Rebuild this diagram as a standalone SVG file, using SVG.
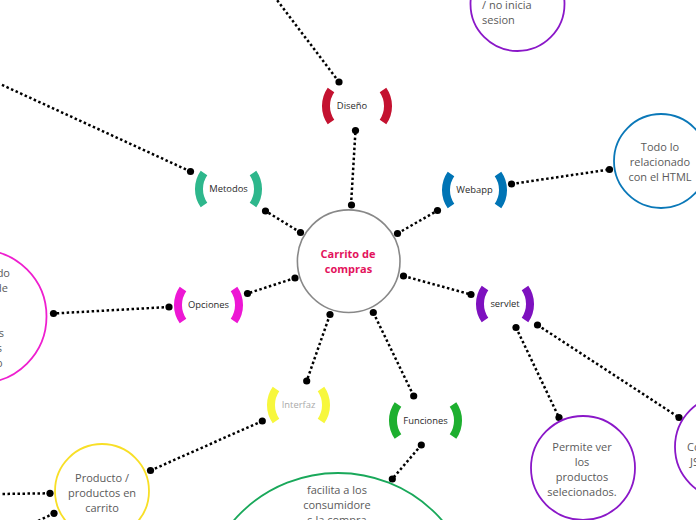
<svg xmlns="http://www.w3.org/2000/svg" width="696" height="520" viewBox="0 0 696 520">
<style>
.con{fill:none;stroke:#000;stroke-width:2.5;stroke-dasharray:2.5 2.5}
.dot{fill:#000}
.br{fill:none;stroke-width:8}
.lbl{font-family:"Open Sans","DejaVu Sans",sans-serif;font-size:9.4px;fill:#2b2b2b;text-anchor:middle}
.leaf{fill:#fff;stroke-width:1.8}
.lt{font-family:"Open Sans","DejaVu Sans",sans-serif;font-size:11px;fill:#5a5a5a;text-anchor:middle}
</style>
<rect width="696" height="520" fill="#fff"/>
<g id="connectors">
<line class="con" x1="351" y1="205" x2="355.5" y2="130.5"/>
<line class="con" x1="339" y1="82" x2="277" y2="0"/>
<line class="con" x1="300.5" y1="232.5" x2="265.5" y2="211"/>
<line class="con" x1="190.5" y1="171.5" x2="0" y2="84"/>
<line class="con" x1="397.5" y1="233.5" x2="437.5" y2="210.5"/>
<line class="con" x1="511.5" y1="184" x2="609.5" y2="169.5"/>
<line class="con" x1="295" y1="278" x2="247.5" y2="293.5"/>
<line class="con" x1="169" y1="307" x2="53.5" y2="313.5"/>
<line class="con" x1="403.5" y1="276" x2="471" y2="294.5"/>
<line class="con" x1="516" y1="327.5" x2="559" y2="417.5"/>
<line class="con" x1="537.5" y1="325" x2="679" y2="417.5"/>
<line class="con" x1="330" y1="314.5" x2="306.7" y2="381"/>
<line class="con" x1="262.3" y1="421" x2="150.5" y2="470.5"/>
<line class="con" x1="373.3" y1="312.5" x2="413.7" y2="396"/>
<line class="con" x1="421.3" y1="445" x2="392.3" y2="479"/>
<line class="con" x1="50" y1="493.3" x2="0" y2="494"/>
<line class="con" x1="54" y1="513.3" x2="38" y2="521"/>
<g class="dot">
<circle cx="351.5" cy="205" r="3.6"/><circle cx="355.5" cy="130.5" r="3.6"/>
<circle cx="339" cy="82" r="3.6"/>
<circle cx="300.5" cy="232.5" r="3.6"/><circle cx="265.5" cy="211" r="3.6"/>
<circle cx="190.5" cy="171.5" r="3.6"/>
<circle cx="397.5" cy="233.5" r="3.6"/><circle cx="437.5" cy="210.5" r="3.6"/>
<circle cx="511.5" cy="184" r="3.6"/><circle cx="609.5" cy="169.5" r="3.6"/>
<circle cx="295" cy="278" r="3.6"/><circle cx="247.5" cy="293.5" r="3.6"/>
<circle cx="169" cy="307" r="3.6"/><circle cx="53.5" cy="313.5" r="3.6"/>
<circle cx="403.5" cy="276" r="3.6"/><circle cx="471" cy="294.5" r="3.6"/>
<circle cx="516" cy="327.5" r="3.6"/><circle cx="559" cy="417.5" r="3.6"/>
<circle cx="537.5" cy="325" r="3.6"/><circle cx="679" cy="417.5" r="3.6"/>
<circle cx="330" cy="314.5" r="3.6"/><circle cx="306.7" cy="381" r="3.6"/>
<circle cx="262.3" cy="421" r="3.6"/><circle cx="150.5" cy="470.5" r="3.6"/>
<circle cx="373.3" cy="312.5" r="3.6"/><circle cx="413.7" cy="396" r="3.6"/>
<circle cx="421.3" cy="445" r="3.6"/><circle cx="392.3" cy="479" r="3.6"/>
<circle cx="50" cy="493.3" r="3.6"/><circle cx="54" cy="513.3" r="3.6"/>
</g>
</g>
<g id="center">
<circle cx="348.7" cy="261.2" r="51.3" fill="#fff" stroke="#888" stroke-width="1.6"/>
<text x="348" y="258" font-family="'Open Sans','DejaVu Sans',sans-serif" font-size="11" font-weight="bold" fill="#e3125c" text-anchor="middle">Carrito de</text>
<text x="348.5" y="273" font-family="'Open Sans','DejaVu Sans',sans-serif" font-size="11" font-weight="bold" fill="#e3125c" text-anchor="middle">compras</text>
</g>
<g id="node-diseno" transform="translate(357,106)">
<path class="br" stroke="#c41230" d="M-26,-16A28,28 0 0 0 -26,16M26,-16A28,28 0 0 1 26,16"/>
<text class="lbl" x="-5" y="3">Diseño</text>
</g>
<g id="node-metodos" transform="translate(228.5,189)">
<path class="br" stroke="#2eb78c" d="M-24.5,-16A28,28 0 0 0 -24.5,16M24.5,-16A28,28 0 0 1 24.5,16"/>
<text class="lbl" x="0" y="3">Metodos</text>
</g>
<g id="node-webapp" transform="translate(474.5,190)">
<path class="br" stroke="#0074b5" d="M-23.5,-16A28,28 0 0 0 -23.5,16M23.5,-16A28,28 0 0 1 23.5,16"/>
<text class="lbl" x="0" y="3">Webapp</text>
</g>
<g id="node-opciones" transform="translate(208.5,305)">
<path class="br" stroke="#ed17d4" d="M-25.5,-16A28,28 0 0 0 -25.5,16M25.5,-16A28,28 0 0 1 25.5,16"/>
<text class="lbl" x="0" y="3">Opciones</text>
</g>
<g id="node-servlet" transform="translate(505,304)">
<path class="br" stroke="#7e11bf" d="M-20,-16A28,28 0 0 0 -20,16M20,-16A28,28 0 0 1 20,16"/>
<text class="lbl" x="0" y="3">servlet</text>
</g>
<g id="node-funciones" transform="translate(425.5,420.5)">
<path class="br" stroke="#1daf2f" d="M-27.5,-16A28,28 0 0 0 -27.5,16M27.5,-16A28,28 0 0 1 27.5,16"/>
<text class="lbl" x="0" y="3">Funciones</text>
</g>
<g id="node-interfaz" transform="translate(298.5,405)">
<path class="br" stroke="#f7f73d" d="M-22.5,-16A28,28 0 0 0 -22.5,16M22.5,-16A28,28 0 0 1 22.5,16"/>
<text class="lbl" x="0" y="3" style="fill:#aaa">Interfaz</text>
</g>
<g id="leaf-sesion">
<circle class="leaf" cx="517.5" cy="4" r="47" stroke="#8a17c8"/>
<text class="lt" x="482" y="9" style="text-anchor:start">/ no inicia</text>
<text class="lt" x="482" y="24" style="text-anchor:start">sesion</text>
</g>
<g id="leaf-html">
<circle class="leaf" cx="661" cy="161" r="47" stroke="#0a78b8"/>
<text class="lt" x="660" y="151">Todo lo</text>
<text class="lt" x="660" y="166">relacionado</text>
<text class="lt" x="660" y="181">con el HTML</text>
</g>
<g id="leaf-opciones">
<circle class="leaf" cx="-20" cy="316.5" r="66.5" stroke="#ee1fcf"/>
<text class="lt" x="10" y="277" style="text-anchor:end">do</text>
<text class="lt" x="8" y="292" style="text-anchor:end">de</text>
<text class="lt" x="4" y="337" style="text-anchor:end">s</text>
<text class="lt" x="2" y="352" style="text-anchor:end">s</text>
<text class="lt" x="2.5" y="367" style="text-anchor:end">o</text>
</g>
<g id="leaf-productos">
<circle class="leaf" cx="583" cy="468" r="52" stroke="#8a17c8"/>
<text class="lt" x="582" y="450.5">Permite ver</text>
<text class="lt" x="582" y="465.5">los</text>
<text class="lt" x="582" y="480.5">productos</text>
<text class="lt" x="582" y="495.5">selecionados.</text>
</g>
<g id="leaf-js">
<circle class="leaf" cx="727" cy="447" r="52" stroke="#8a17c8"/>
<text class="lt" x="687" y="450.5" style="text-anchor:start">Co</text>
<text class="lt" x="690" y="465.5" style="text-anchor:start">JS</text>
</g>
<g id="leaf-carrito">
<circle class="leaf" cx="102" cy="491" r="47" stroke="#f8df26"/>
<text class="lt" x="102" y="482">Producto /</text>
<text class="lt" x="102" y="497">productos en</text>
<text class="lt" x="102" y="512">carrito</text>
</g>
<g id="leaf-compra">
<circle class="leaf" cx="338" cy="611" r="138" stroke="#19a85a"/>
<text class="lt" x="337" y="494">facilita a los</text>
<text class="lt" x="337" y="509">consumidore</text>
<text class="lt" x="337" y="524">s la compra</text>
</g>
</svg>
